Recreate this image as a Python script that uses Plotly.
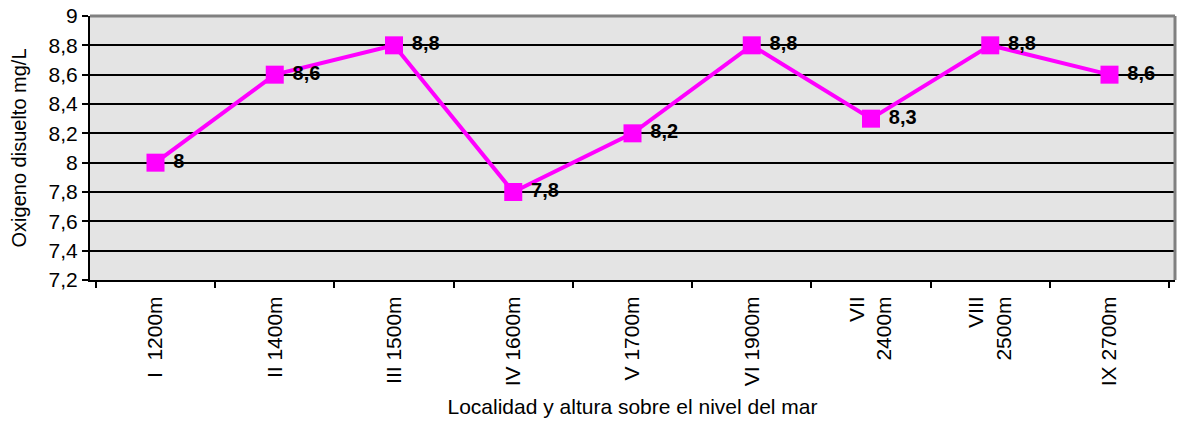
import plotly.graph_objects as go

# Sampling sites (locality and altitude) and dissolved oxygen readings
localities = ["I\u00a0\u00a01200m", "II 1400m", "III 1500m", "IV 1600m", "V 1700m",
              "VI 1900m", "VII<br>2400m", "VIII<br>2500m", "IX 2700m"]
oxygen = [8.0, 8.6, 8.8, 7.8, 8.2, 8.8, 8.3, 8.8, 8.6]

y_ticks = [7.2, 7.4, 7.6, 7.8, 8.0, 8.2, 8.4, 8.6, 8.8, 9.0]


def fmt(v):
    s = f"{v:g}"
    return s.replace(".", ",")


y_tick_text = [fmt(v) for v in y_ticks]
# small gap between each marker and its value label
point_labels = ["\u00a0" + fmt(v) for v in oxygen]

FONT = "Liberation Sans, Arial, sans-serif"

fig = go.Figure()
fig.add_trace(go.Scatter(
    x=localities,
    y=oxygen,
    mode="lines+markers+text",
    line=dict(color="#FF00FF", width=4),
    marker=dict(symbol="square", size=18, color="#FF00FF"),
    text=point_labels,
    textposition="middle right",
    textfont=dict(family=FONT, size=20, color="black", weight="bold"),
    cliponaxis=False,
    showlegend=False,
))

fig.update_layout(
    width=1178,
    height=423,
    margin=dict(l=90, r=3, t=16, b=143),
    paper_bgcolor="white",
    plot_bgcolor="#e4e4e4",
    font=dict(family=FONT, color="black"),
    separators=",.",
    xaxis=dict(
        type="category",
        tickson="boundaries",
        ticks="outside",
        ticklen=6,
        tickwidth=2,
        tickcolor="black",
        tickangle=-90,
        tickfont=dict(size=21),
        ticklabelstandoff=6,
        showline=True,
        linecolor="black",
        linewidth=2,
        showgrid=False,
        title=dict(text="Localidad y altura sobre el nivel del mar",
                   font=dict(size=21), standoff=14),
    ),
    yaxis=dict(
        range=[7.2, 9.0],
        tickvals=y_ticks,
        ticktext=y_tick_text,
        ticks="outside",
        ticklen=6,
        tickwidth=2,
        tickcolor="black",
        tickfont=dict(size=21),
        showline=True,
        linecolor="black",
        linewidth=2,
        showgrid=True,
        gridcolor="black",
        gridwidth=2,
        zeroline=False,
    ),
    annotations=[
        dict(text="Oxigeno disuelto mg/L", textangle=-90,
             xref="paper", yref="paper", x=-0.065, y=0.5,
             xanchor="center", yanchor="middle", showarrow=False,
             font=dict(size=20)),
    ],
    shapes=[
        dict(type="line", xref="paper", yref="paper", x0=0, x1=1, y0=1, y1=1,
             line=dict(color="#808080", width=3), layer="above"),
        dict(type="line", xref="paper", yref="paper", x0=1, x1=1, y0=0, y1=1,
             line=dict(color="#808080", width=3), layer="above"),
    ],
)

fig.write_html("out.html")
